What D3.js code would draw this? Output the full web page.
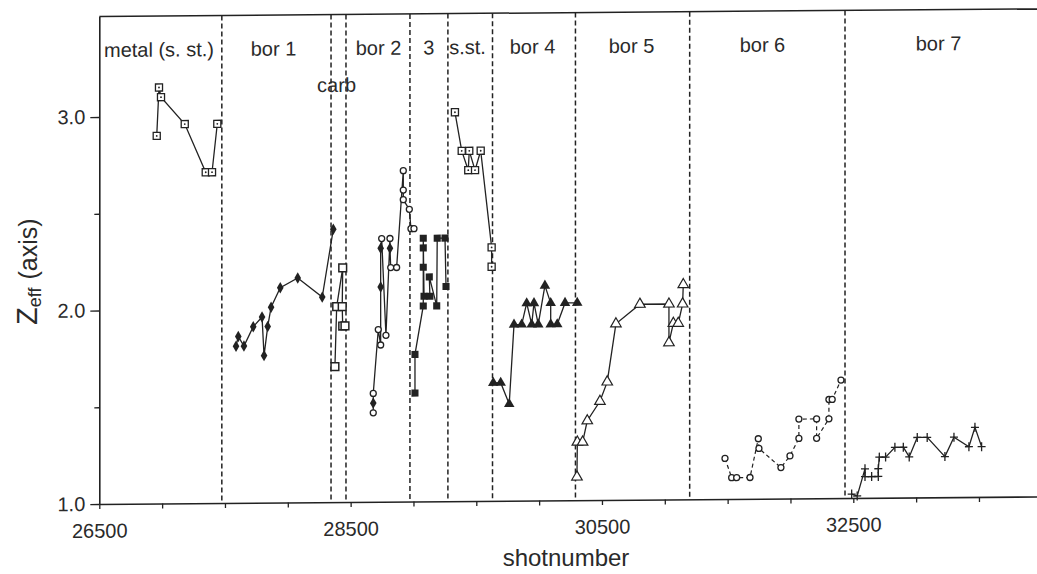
<!DOCTYPE html>
<html>
<head>
<meta charset="utf-8">
<script src="https://cdn.jsdelivr.net/npm/d3@7"></script>
<style>
  body { margin: 0; background: #fff; }
  text { font-family: "Liberation Sans", Arial, sans-serif; fill: #2a2a2a; }
</style>
</head>
<body>
<svg id="chart" width="1037" height="574"></svg>
<script>
// Zeff (axis) vs shot number
const metalShots = [26957, 26975, 26991, 27180, 27347, 27397, 27439];
const metalZ     = [2.90, 3.15, 3.10, 2.96, 2.71, 2.71, 2.96];

const bor1Shots = [27588, 27606, 27651, 27725, 27795, 27811, 27840, 27867, 27940, 28079, 28274, 28362];
const bor1Z     = [1.81, 1.86, 1.81, 1.91, 1.96, 1.76, 1.91, 2.01, 2.11, 2.16, 2.06, 2.41];

const carbShots = [28375, 28389, 28437, 28433, 28437, 28455];
const carbZ     = [1.70, 2.01, 2.21, 2.01, 1.91, 1.91];

const bor2Shots = [28680, 28680, 28680, 28720, 28739, 28739, 28739, 28747, 28781, 28813, 28813, 28819, 28866, 28919, 28919, 28919, 28967, 28980, 29004];
const bor2Z     = [1.46, 1.51, 1.56, 1.89, 1.81, 2.11, 2.31, 2.36, 1.86, 2.36, 2.31, 2.21, 2.21, 2.71, 2.61, 2.56, 2.51, 2.41, 2.41];
const bor2Kind  = ["o", "d", "o", "o", "o", "d", "d", "o", "o", "o", "d", "o", "o", "o", "o", "o", "o", "o", "o"];

const s3Shots = [29012, 29012, 29078, 29078, 29078, 29078, 29084, 29131, 29126, 29185, 29189, 29251, 29259];
const s3Z     = [1.56, 1.76, 2.01, 2.21, 2.31, 2.36, 2.06, 2.06, 2.16, 2.01, 2.36, 2.36, 2.11];

const sstShots = [29330, 29384, 29436, 29444, 29490, 29535, 29622, 29622];
const sstZ     = [3.01, 2.81, 2.71, 2.81, 2.71, 2.81, 2.31, 2.21];

const bor4Shots = [29635, 29694, 29762, 29800, 29861, 29901, 29941, 29959, 29993, 30046, 30092, 30092, 30144, 30206, 30303];
const bor4Z     = [1.61, 1.61, 1.50, 1.91, 1.91, 2.02, 1.91, 2.02, 1.91, 2.11, 2.02, 1.91, 1.91, 2.02, 2.02];

const bor5Shots = [30301, 30304, 30346, 30383, 30484, 30542, 30611, 30802, 31033, 31033, 31068, 31107, 31142, 31147];
const bor5Z     = [1.12, 1.30, 1.30, 1.41, 1.51, 1.61, 1.91, 2.01, 2.01, 1.81, 1.91, 1.91, 2.01, 2.11];

const bor6Shots = [31479, 31532, 31572, 31678, 31744, 31749, 31924, 31996, 32067, 32067, 32208, 32208, 32306, 32306, 32332, 32402];
const bor6Z     = [1.21, 1.11, 1.11, 1.11, 1.31, 1.26, 1.16, 1.22, 1.31, 1.41, 1.41, 1.31, 1.41, 1.51, 1.51, 1.61];

const bor7Shots = [32487, 32531, 32593, 32593, 32646, 32699, 32699, 32707, 32757, 32831, 32898, 32945, 33009, 33088, 33229, 33301, 33420, 33468, 33521];
const bor7Z     = [1.02, 1.01, 1.15, 1.11, 1.11, 1.11, 1.15, 1.21, 1.21, 1.26, 1.26, 1.21, 1.31, 1.31, 1.21, 1.31, 1.26, 1.36, 1.26];

// material boundaries (dashed) and segment names
const boundaries = [27475, 28344, 28463, 28972, 29274, 29629, 30289, 31198, 32434];
const segLabels     = ["metal (s. st.)", "bor 1", "carb", "bor 2", "3", "s.st.", "bor 4", "bor 5", "bor 6", "bor 7"];
const segLabelShots = [26975, 27886, 28388, 28722, 29123, 29430, 29947, 30735, 31777, 33178];
const segLabelZ     = [3.31, 3.31, 3.12, 3.31, 3.31, 3.31, 3.31, 3.31, 3.31, 3.31];

const xTickLabels = [26500, 28500, 30500, 32500];
const xTicks = [26500, 27000, 27500, 28000, 28500, 29000, 29500, 30000, 30500, 31000, 31500, 32000, 32500, 33000, 33500, 34000];
const yTickLabels = [1.0, 2.0, 3.0];
const yTicks = [1.0, 1.5, 2.0, 2.5, 3.0];

const ink = "#222";
const svg = d3.select("#chart");

const x = d3.scaleLinear().domain([26500, 34000]).range([99.3, 1041.8]);
const y = d3.scaleLinear().domain([1.0, 3.52]).range([504, 16.4]);

// the scan is slightly tilted: shear so the axis falls to the right like the original
const k = 0.008;
const g = svg.append("g")
    .attr("transform", `translate(0,${k * 99}) skewY(${-Math.atan(k) * 180 / Math.PI})`);

// top frame line
g.append("line")
    .attr("x1", x(26500)).attr("x2", x(34000))
    .attr("y1", y(3.52)).attr("y2", y(3.52))
    .attr("stroke", ink).attr("stroke-width", 1.5);

// dashed boundaries
g.selectAll(".bound")
    .data(boundaries)
    .enter().append("line")
    .attr("class", "bound")
    .attr("x1", d => x(d)).attr("x2", d => x(d))
    .attr("y1", y(3.52)).attr("y2", y(1.0))
    .attr("stroke", ink).attr("stroke-width", 1.5)
    .attr("stroke-dasharray", "5,3");

// x axis
const xAxis = g.append("g")
    .attr("transform", `translate(0,${y(1.0)})`)
    .call(d3.axisBottom(x)
        .tickValues(xTicks)
        .tickFormat(d => xTickLabels.includes(d) ? d : "")
        .tickSize(5).tickPadding(14.5).tickSizeOuter(0));
xAxis.select(".domain").attr("stroke", ink).attr("stroke-width", 1.6);
xAxis.selectAll(".tick line").attr("stroke", ink).attr("stroke-width", 1.3);
xAxis.selectAll(".tick text").attr("font-size", 20).attr("font-family", null).attr("fill", "#2a2a2a");

// y axis
const yAxis = g.append("g")
    .attr("transform", `translate(${x(26500)},0)`)
    .call(d3.axisLeft(y)
        .tickValues(yTicks)
        .tickFormat(d => yTickLabels.includes(d) ? d3.format(".1f")(d) : "")
        .tickSize(5).tickPadding(9).tickSizeOuter(0));
yAxis.select(".domain").attr("stroke", ink).attr("stroke-width", 1.6);
yAxis.selectAll(".tick line").attr("stroke", ink).attr("stroke-width", 1.3)
    .attr("x2", d => yTickLabels.includes(d) ? -9 : -5);
yAxis.selectAll(".tick text").attr("font-size", 20).attr("font-family", null).attr("fill", "#2a2a2a");

// segment labels
g.selectAll(".seg")
    .data(segLabels)
    .enter().append("text")
    .attr("class", "seg")
    .attr("x", (d, i) => x(segLabelShots[i]))
    .attr("y", (d, i) => y(segLabelZ[i]))
    .attr("text-anchor", "middle")
    .attr("font-size", 20)
    .text(d => d);

// markers
const sq = d3.symbol().type(d3.symbolSquare).size(50)();
const sqBig = d3.symbol().type(d3.symbolSquare).size(60)();
const diamond = d3.symbol().type(d3.symbolDiamond).size(38)();
const tri = d3.symbol().type(d3.symbolTriangle).size(48)();

function marker(layer, kind, cx, cy) {
    const t = `translate(${cx},${cy})`;
    if (kind === "sqDot") {
        layer.append("path").attr("d", sq).attr("transform", t)
            .attr("fill", "#fff").attr("stroke", ink).attr("stroke-width", 1.3);
        layer.append("circle").attr("cx", cx).attr("cy", cy).attr("r", 0.9).attr("fill", ink);
    } else if (kind === "sq") {
        layer.append("path").attr("d", sqBig).attr("transform", t)
            .attr("fill", "#fff").attr("stroke", ink).attr("stroke-width", 1.5);
    } else if (kind === "sqFill") {
        layer.append("path").attr("d", sq).attr("transform", t).attr("fill", ink);
    } else if (kind === "d") {
        layer.append("path").attr("d", diamond).attr("transform", t).attr("fill", ink);
    } else if (kind === "o") {
        layer.append("circle").attr("cx", cx).attr("cy", cy).attr("r", 3)
            .attr("fill", "#fff").attr("stroke", ink).attr("stroke-width", 1.3);
    } else if (kind === "triFill") {
        layer.append("path").attr("d", tri).attr("transform", t).attr("fill", ink);
    } else if (kind === "tri") {
        layer.append("path").attr("d", tri).attr("transform", t)
            .attr("fill", "#fff").attr("stroke", ink).attr("stroke-width", 1.2);
    } else if (kind === "plus") {
        layer.append("path").attr("d", "M-4,0H4M0,-4.5V4.5").attr("transform", t)
            .attr("fill", "none").attr("stroke", ink).attr("stroke-width", 1.3);
    }
}

const series = [
    { shots: metalShots, z: metalZ, kind: "sqDot" },
    { shots: bor1Shots, z: bor1Z, kind: "d" },
    { shots: carbShots, z: carbZ, kind: "sq" },
    { shots: bor2Shots, z: bor2Z, kinds: bor2Kind },
    { shots: s3Shots, z: s3Z, kind: "sqFill" },
    { shots: sstShots, z: sstZ, kind: "sqDot" },
    { shots: bor4Shots, z: bor4Z, kind: "triFill" },
    { shots: bor5Shots, z: bor5Z, kind: "tri" },
    { shots: bor6Shots, z: bor6Z, kind: "o", dashed: true },
    { shots: bor7Shots, z: bor7Z, kind: "plus" }
];

const line = d3.line().x(d => x(d[0])).y(d => y(d[1]));

series.forEach(s => {
    const pts = s.shots.map((v, i) => [v, s.z[i]]);
    g.append("path")
        .datum(pts)
        .attr("d", line)
        .attr("fill", "none")
        .attr("stroke", ink)
        .attr("stroke-width", s.dashed ? 1.2 : 1.3)
        .attr("stroke-dasharray", s.dashed ? "4,3" : null);
    const layer = g.append("g");
    pts.forEach((p, i) => marker(layer, s.kinds ? s.kinds[i] : s.kind, x(p[0]), y(p[1])));
});

// axis titles
svg.append("text")
    .attr("x", 566).attr("y", 566)
    .attr("text-anchor", "middle")
    .attr("font-size", 24)
    .text("shotnumber");

const yt = svg.append("text")
    .attr("transform", "translate(37,325) rotate(-90)")
    .attr("text-anchor", "start");
yt.append("tspan").attr("font-size", 29).text("Z");
yt.append("tspan").attr("font-size", 18).attr("dy", 4).text("eff");
yt.append("tspan").attr("font-size", 25).attr("dy", -4).attr("dx", 8).text("(axis)");
</script>
</body>
</html>
